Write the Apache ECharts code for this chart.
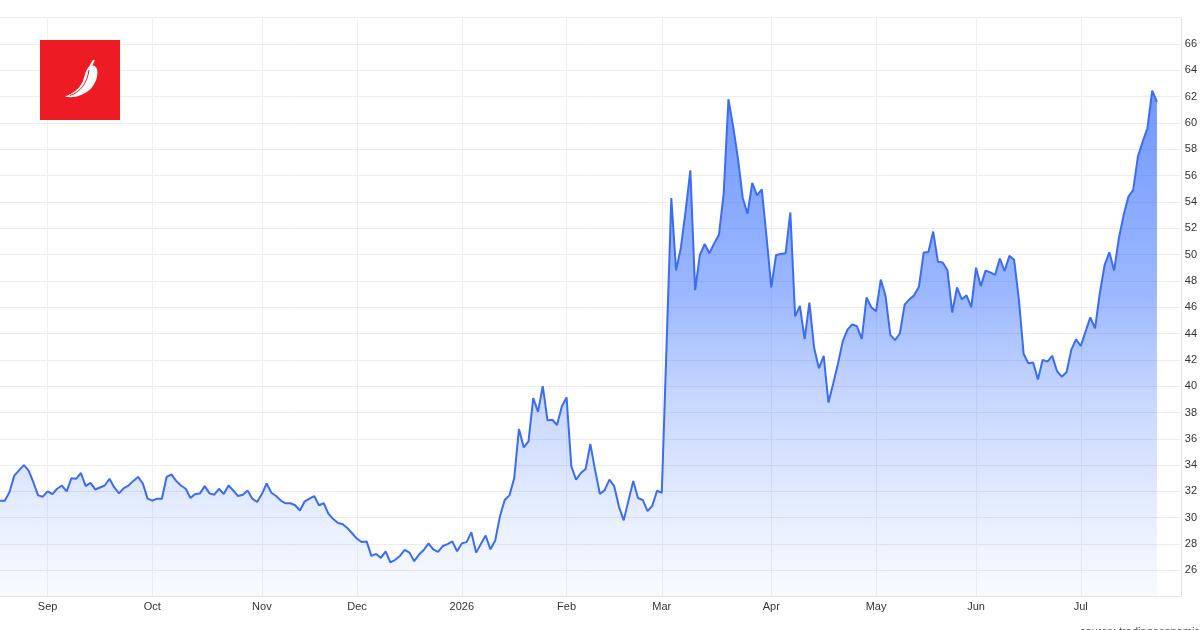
<!DOCTYPE html>
<html>
<head>
<meta charset="utf-8">
<script src="https://cdn.jsdelivr.net/npm/echarts@6/dist/echarts.min.js"></script>
<style>
html,body{margin:0;padding:0;background:#ffffff;}
#chart{width:1200px;height:630px;}
</style>
</head>
<body>
<div id="chart"></div>
<script>
// Month labels (first group starts mid-August, so it has no label)
const monthLabels = ['', 'Sep', 'Oct', 'Nov', 'Dec', '2026', 'Feb', 'Mar', 'Apr', 'May', 'Jun', 'Jul'];

// Daily values grouped by month
const aug = [31.3, 31.3, 31.95, 33.2, 33.6, 34.0, 33.6, 32.7, 31.7, 31.6];
const sep = [32.0, 31.8, 32.2, 32.45, 32.0, 33.0, 32.96, 33.4, 32.4, 32.65, 32.15, 32.3, 32.45, 32.96, 32.3, 31.85, 32.25, 32.45, 32.8, 33.1, 32.6, 31.45];
const oct = [31.3, 31.45, 31.45, 33.1, 33.3, 32.8, 32.45, 32.2, 31.5, 31.8, 31.85, 32.4, 31.85, 31.75, 32.2, 31.8, 32.45, 32.07, 31.65, 31.75, 32.07, 31.45, 31.2];
const nov = [31.8, 32.6, 31.9, 31.65, 31.3, 31.1, 31.1, 30.95, 30.55, 31.25, 31.45, 31.65, 30.95, 31.1, 30.3, 29.9, 29.6, 29.5, 29.2, 28.8];
const dec = [28.4, 28.15, 28.2, 27.1, 27.25, 26.95, 27.45, 26.6, 26.8, 27.1, 27.55, 27.35, 26.7, 27.2, 27.55, 28.05, 27.6, 27.4, 27.85, 28.0, 28.2, 27.45];
const jan = [28.05, 28.15, 28.9, 27.35, 28.0, 28.65, 27.6, 28.25, 30.1, 31.35, 31.7, 33.0, 36.75, 35.35, 35.8, 39.1, 38.05, 40.0, 37.4, 37.45, 37.05, 38.45];
const feb = [39.15, 33.9, 32.9, 33.4, 33.7, 35.6, 33.6, 31.8, 32.1, 32.9, 32.4, 30.85, 29.8, 31.3, 32.8, 31.5, 31.35, 30.5, 30.9, 32.05];
const mar = [31.9, 43.1, 54.3, 48.8, 50.5, 53.3, 56.4, 47.3, 49.97, 50.8, 50.1, 50.85, 51.5, 54.65, 61.8, 59.7, 57.3, 54.3, 53.1, 55.45, 54.5, 54.95, 51.35];
const apr = [47.5, 49.97, 50.04, 50.1, 53.2, 45.3, 46.1, 43.6, 46.35, 42.9, 41.35, 42.3, 38.75, 40.2, 41.7, 43.4, 44.3, 44.7, 44.55, 43.6, 46.75, 46.0];
const may = [45.7, 48.1, 46.85, 43.9, 43.5, 44.0, 46.2, 46.6, 46.9, 47.55, 50.15, 50.2, 51.75, 49.45, 49.4, 48.8, 45.6, 47.5, 46.6, 46.9, 46.0];
const jun = [49.0, 47.6, 48.78, 48.65, 48.45, 49.7, 48.75, 49.9, 49.6, 46.6, 42.44, 41.74, 41.8, 40.5, 42.0, 41.86, 42.3, 41.15, 40.72, 41.05, 42.75, 43.56];
const jul = [43.05, 44.14, 45.23, 44.4, 47.06, 49.2, 50.17, 48.78, 51.24, 53.0, 54.4, 54.9, 57.44, 58.58, 59.6, 62.45, 61.6];

// Empty trailing slots so the axis runs on past the last value
const trailingSlots = 5;

// Y axis ticks
const yMin = 24, yMax = 68, yStep = 2;

const groups = [aug, sep, oct, nov, dec, jan, feb, mar, apr, may, jun, jul];
const categories = [];
const values = [];
const monthStarts = new Set();
groups.forEach((g, gi) => {
  g.forEach((v, i) => {
    if (i === 0 && monthLabels[gi]) {
      monthStarts.add(categories.length);
      categories.push(monthLabels[gi]);
    } else {
      categories.push((monthLabels[gi] || 'Aug') + '#' + i);
    }
    values.push(v);
  });
});
for (let i = 0; i < trailingSlots; i++) {
  categories.push('end#' + i);
  values.push('-');
}

// Logo pepper shape
const PepperShape = echarts.graphic.extendShape({
  shape: {},
  buildPath: function (ctx) {
    ctx.moveTo(65, 96.5);
    ctx.bezierCurveTo(72, 98.5, 84, 96, 91, 88.5);
    ctx.bezierCurveTo(96, 83, 98.5, 75, 97, 69);
    ctx.bezierCurveTo(96, 66, 93, 64.5, 90.5, 65.5);
    ctx.bezierCurveTo(87.5, 67, 85.5, 72, 84, 78);
    ctx.bezierCurveTo(82, 86, 75, 93, 65, 96.5);
    ctx.closePath();
  }
});
echarts.graphic.registerShape('pepper', PepperShape);

const FONT = '"Liberation Sans", Arial, Helvetica, sans-serif';
const chart = echarts.init(document.getElementById('chart'), null, {renderer: 'canvas'});
chart.setOption({
  animation: false,
  backgroundColor: '#ffffff',
  grid: {left: -1, right: 15.2, top: 17.7, bottom: 33.3, containLabel: false},
  xAxis: {
    type: 'category',
    data: categories,
    boundaryGap: false,
    axisLine: {show: true, lineStyle: {color: '#e3e3e3', width: 1}},
    axisTick: {show: false},
    axisLabel: {
      interval: (idx) => monthStarts.has(idx),
      formatter: (v) => (v.indexOf('#') >= 0 ? '' : v),
      color: '#333333',
      fontSize: 11,
      fontFamily: FONT,
      margin: 5
    },
    splitLine: {
      show: true,
      interval: (idx) => monthStarts.has(idx),
      lineStyle: {color: '#eef0f4', width: 1}
    }
  },
  yAxis: {
    type: 'value',
    position: 'right',
    min: yMin,
    max: yMax,
    interval: yStep,
    axisLine: {show: true, lineStyle: {color: '#e3e3e3', width: 1}},
    axisTick: {show: false},
    axisLabel: {
      showMinLabel: false,
      showMaxLabel: false,
      color: '#333333',
      fontSize: 11,
      fontFamily: FONT,
      margin: 4
    },
    splitLine: {show: true, lineStyle: {color: '#ececec', width: 1}}
  },
  series: [{
    type: 'line',
    data: values,
    showSymbol: false,
    symbol: 'none',
    smooth: false,
    connectNulls: false,
    lineStyle: {color: '#3a6cf6', width: 2},
    itemStyle: {color: '#3a6cf6'},
    areaStyle: {
      origin: 'start',
      color: new echarts.graphic.LinearGradient(0, 0, 0, 1, [
        {offset: 0, color: 'rgba(40,100,255,0.95)'},
        {offset: 0.4, color: 'rgba(40,100,255,0.66)'},
        {offset: 0.6, color: 'rgba(40,100,255,0.38)'},
        {offset: 0.85, color: 'rgba(40,100,255,0.15)'},
        {offset: 1, color: 'rgba(40,100,255,0.04)'}
      ])
    }
  }],
  graphic: [
    {type: 'rect', shape: {x: 40, y: 40, width: 80, height: 80}, style: {fill: '#ED1C24'}, z: 100},
    {type: 'pepper', shape: {}, style: {fill: '#ffffff'}, z: 101},
    {type: 'bezierCurve', shape: {x1: 70, y1: 95.5, cpx1: 80, cpy1: 92, cpx2: 87, cpy2: 84, x2: 89, y2: 70}, style: {stroke: '#ED1C24', lineWidth: 1, fill: null}, z: 102},
    {type: 'line', shape: {x1: 90.8, y1: 65.8, x2: 93.6, y2: 60.8}, style: {stroke: '#ffffff', lineWidth: 2.2, lineCap: 'round'}, z: 101},
    {type: 'text', x: 1080, y: 626.5, style: {text: 'source: tradingeconomics.com', fill: '#555555', font: '11px ' + FONT, textVerticalAlign: 'top', textAlign: 'left'}, z: 100}
  ]
});
</script>
</body>
</html>
